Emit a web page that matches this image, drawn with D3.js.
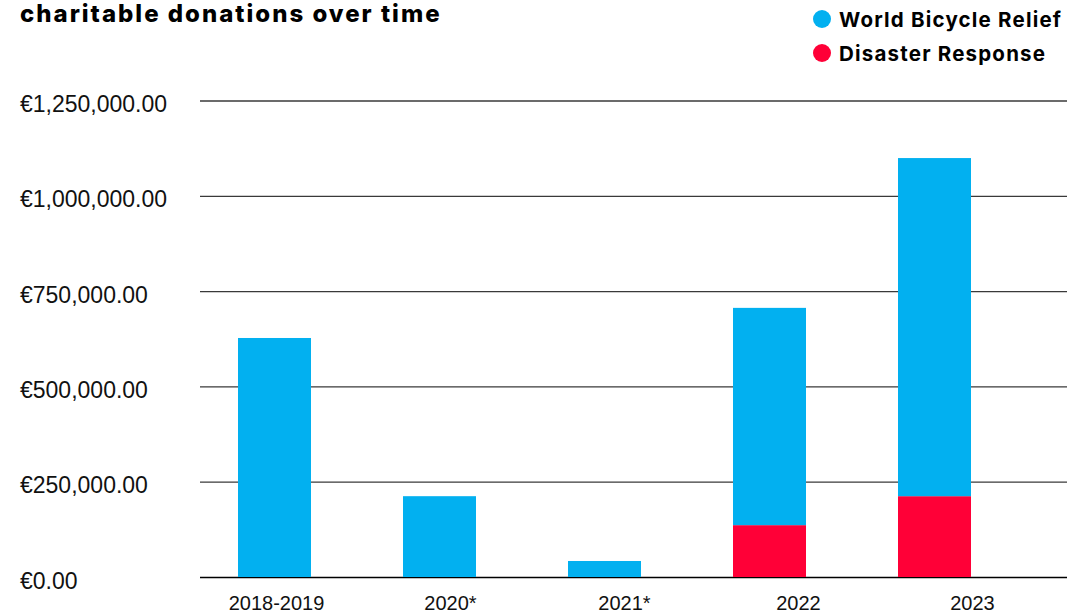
<!DOCTYPE html>
<html>
<head>
<meta charset="utf-8">
<script src="https://cdn.jsdelivr.net/npm/d3@7"></script>
<style>
  html, body { margin: 0; padding: 0; background: #fff; }
  svg { display: block; }
</style>
</head>
<body>
<svg id="chart" width="1083" height="614"></svg>
<script>
// ---- data ----
const categories = ["2018-2019", "2020*", "2021*", "2022", "2023"];
const disasterResponse = [0, 0, 0, 136000, 212000];
const worldBicycleRelief = [627000, 212000, 42000, 570000, 887000];
const seriesNames = ["World Bicycle Relief", "Disaster Response"];
const seriesColors = ["#02b0f0", "#ff0037"];
const yTicks = [0, 250000, 500000, 750000, 1000000, 1250000];
const titleText = "charitable donations over time";

// ---- layout ----
const svg = d3.select("#chart");
const gridLeft = 200, gridRight = 1067;
const yBottom = 577, yTop = 100.5;

const y = d3.scaleLinear().domain([0, 1250000]).range([yBottom, yTop]);

const xBars = d3.scaleBand().domain(categories).range([238, 971])
  .paddingInner(0.5576).paddingOuter(0);
const xLabels = d3.scalePoint().domain(categories).range([276, 972]);

// stacked data: Disaster Response at bottom, World Bicycle Relief on top
const rows = categories.map((c, i) => ({
  cat: c,
  "Disaster Response": disasterResponse[i],
  "World Bicycle Relief": worldBicycleRelief[i]
}));
const stacked = d3.stack().keys(["Disaster Response", "World Bicycle Relief"])(rows);
const color = d3.scaleOrdinal().domain(seriesNames).range(seriesColors);

// ---- gridlines + y axis ----
const fmt = v => "€" + d3.format(",.2f")(v);
const yAxis = d3.axisLeft(y).tickValues(yTicks).tickFormat(fmt)
  .tickSize(-(gridRight - gridLeft)).tickPadding(0);
const gy = svg.append("g").attr("transform", `translate(${gridLeft},0)`);
gy.call(yAxis);
gy.select(".domain").remove();
gy.selectAll(".tick line")
  .attr("stroke", d => d === 0 ? "#000" : "#3a3a3a")
  .attr("stroke-width", d => d === 0 ? 1.6 : 1.3);
gy.selectAll(".tick text")
  .attr("x", 20 - gridLeft)
  .attr("dy", "0.48em")
  .attr("text-anchor", "start")
  .attr("fill", "#111")
  .style("font-family", "'Liberation Sans', Arial, sans-serif")
  .style("font-size", "23px");

// ---- bars ----
svg.append("g").selectAll("g")
  .data(stacked)
  .join("g")
  .attr("fill", d => color(d.key))
  .selectAll("rect")
  .data(d => d)
  .join("rect")
  .attr("x", d => xBars(d.data.cat))
  .attr("width", xBars.bandwidth())
  .attr("y", d => y(d[1]))
  .attr("height", d => Math.max(0, y(d[0]) - y(d[1])));

// ---- x axis labels ----
const xAxis = d3.axisBottom(xLabels).tickSize(0).tickPadding(0);
const gx = svg.append("g").attr("transform", `translate(0,${yBottom})`);
gx.call(xAxis);
gx.select(".domain").remove();
gx.selectAll(".tick text")
  .attr("y", 33)
  .attr("dy", "0")
  .attr("fill", "#111")
  .style("font-family", "'Liberation Sans', Arial, sans-serif")
  .style("font-size", "20px");

// ---- title ----
svg.append("text")
  .attr("x", 20).attr("y", 22)
  .attr("fill", "#000")
  .style("font-family", "Inter, 'DejaVu Sans', sans-serif")
  .style("font-weight", 800)
  .style("font-size", "24px")
  .style("letter-spacing", "2px")
  .text(titleText);

// ---- legend ----
const legend = svg.append("g").selectAll("g")
  .data(seriesNames)
  .join("g")
  .attr("transform", (d, i) => `translate(822,${19 + i * 34})`);
legend.append("circle").attr("r", 9).attr("fill", d => color(d));
legend.append("text")
  .attr("x", 17).attr("y", 8)
  .attr("fill", "#000")
  .style("font-family", "Inter, 'DejaVu Sans', sans-serif")
  .style("font-weight", 700)
  .style("font-size", "20.5px")
  .style("letter-spacing", "1.2px")
  .text(d => d);
</script>
</body>
</html>
